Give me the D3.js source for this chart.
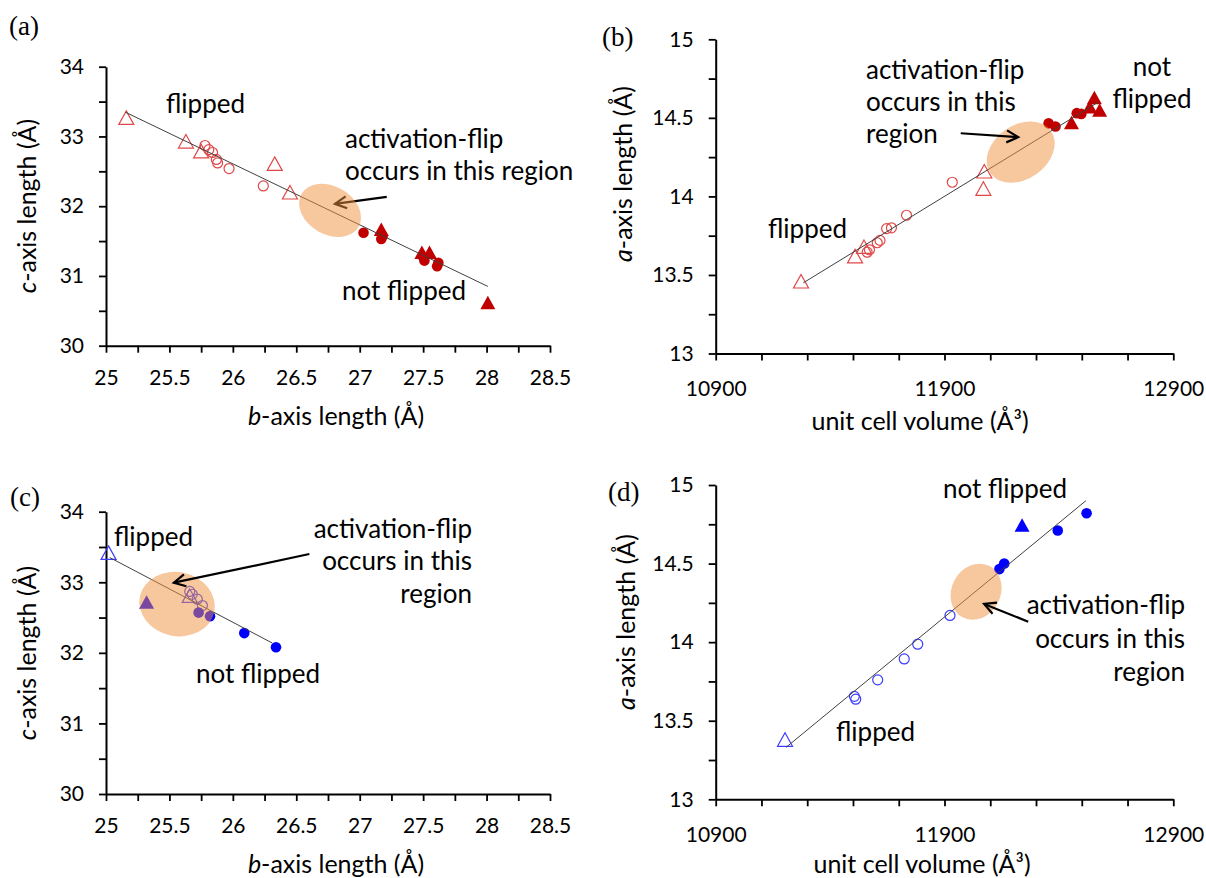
<!DOCTYPE html>
<html>
<head>
<meta charset="utf-8">
<script src="https://cdn.jsdelivr.net/npm/d3@7"></script>
<style>
  body { margin: 0; background: #fff; }
  svg text { font-family: Lato, "Open Sans", sans-serif; fill: #000; }
</style>
</head>
<body>
<svg id="fig" width="1206" height="878"></svg>
<script>
// ---------- axis ticks ----------
const bTicks   = [25, 25.25, 25.5, 25.75, 26, 26.25, 26.5, 26.75, 27, 27.25, 27.5, 27.75, 28, 28.25, 28.5];
const bLabels  = [25, 25.5, 26, 26.5, 27, 27.5, 28, 28.5];
const cTicks   = [30, 30.5, 31, 31.5, 32, 32.5, 33, 33.5, 34];
const cLabels  = [30, 31, 32, 33, 34];
const volTicks = [10900, 11100, 11300, 11500, 11700, 11900, 12100, 12300, 12500, 12700, 12900];
const volLabels = [10900, 11900, 12900];
const aTicks   = [13, 13.25, 13.5, 13.75, 14, 14.25, 14.5, 14.75, 15];
const aLabels  = [13, 13.5, 14, 14.5, 15];

// ---------- (a) c-axis vs b-axis, first sample set ----------
const aFlippedTri   = [[25.16, 33.27], [25.63, 32.93], [25.75, 32.79], [26.33, 32.61], [26.45, 32.20]];
const aFlippedCirc  = [[25.78, 32.87], [25.81, 32.81], [25.84, 32.77], [25.87, 32.67], [25.88, 32.62], [25.97, 32.54], [26.24, 32.29]];
const aNotFlipCirc  = [[27.03, 31.62], [27.18, 31.57], [27.17, 31.53], [27.50, 31.27], [27.51, 31.22], [27.62, 31.19], [27.61, 31.14]];
const aNotFlipTri   = [[27.17, 31.67], [27.49, 31.34], [27.55, 31.34], [28.01, 30.62]];
const aTrend        = [[25.15, 33.35], [28.01, 30.85]];

// ---------- (b) a-axis vs unit cell volume, first sample set ----------
const bFlippedTri   = [[11273, 13.46], [11509, 13.62], [11548, 13.68], [12074, 14.16], [12070, 14.05]];
const bFlippedCirc  = [[11562, 13.645], [11572, 13.66], [11606, 13.705], [11618, 13.72], [11647, 13.795], [11668, 13.80], [11734, 13.88], [11934, 14.09]];
const bNotFlipCirc  = [[12355, 14.465], [12385, 14.445], [12478, 14.53], [12498, 14.525]];
const bNotFlipTri   = [[12455, 14.47], [12535, 14.57], [12555, 14.63], [12578, 14.55]];
const bTrend        = [[11283, 13.45], [12572, 14.60]];

// ---------- (c) c-axis vs b-axis, second sample set ----------
const cFlippedTri   = [[25.02, 33.42], [25.66, 32.81]];
const cFlippedCirc  = [[25.66, 32.87], [25.68, 32.83], [25.72, 32.76], [25.76, 32.67]];
const cNotFlipCirc  = [[25.73, 32.57], [25.82, 32.52], [26.09, 32.28], [26.34, 32.08]];
const cNotFlipTri   = [[25.32, 32.72]];
const cTrend        = [[25.03, 33.35], [26.31, 32.14]];

// ---------- (d) a-axis vs unit cell volume, second sample set ----------
const dFlippedTri   = [[11203, 13.38]];
const dFlippedCirc  = [[11506, 13.655], [11512, 13.637], [11608, 13.76], [11724, 13.893], [11783, 13.987], [11924, 14.17]];
const dNotFlipCirc  = [[12140, 14.465], [12161, 14.50], [12395, 14.71], [12521, 14.82]];
const dNotFlipTri   = [[12239, 14.745]];
const dTrend        = [[11207, 13.33], [12518, 14.90]];

const RED_OPEN = "#E04848", RED_FILL = "#C00000";
const BLUE_OPEN = "#3C3CFF", BLUE_FILL = "#0000FF";
const ZONE_FILL = "#F0913D";
const NOTE_SIZE = "26px", TITLE_SIZE = "25px", TICK_SIZE = "21px";

const svg = d3.select("#fig");

function triPath(s, h) {
  return `M0,${-h / 2}L${s / 2},${h / 2}L${-s / 2},${h / 2}Z`;
}

function arrowTo(g, x0, y0, x1, y1) {
  const ang = Math.atan2(y1 - y0, x1 - x0), L = 13, W = 0.48;
  g.append("line").attr("x1", x0).attr("y1", y0).attr("x2", x1).attr("y2", y1)
    .attr("stroke", "#000").attr("stroke-width", 2.2);
  const p1 = [x1 - L * Math.cos(ang - W), y1 - L * Math.sin(ang - W)];
  const p2 = [x1 - L * Math.cos(ang + W), y1 - L * Math.sin(ang + W)];
  g.append("path").attr("d", `M${p1}L${x1},${y1}L${p2}`)
    .attr("fill", "none").attr("stroke", "#000").attr("stroke-width", 2.2)
    .attr("stroke-linejoin", "miter");
}

function isIn(list, v) { return list.some(t => Math.abs(t - v) < 1e-9); }

function drawPanel(p) {
  const g = svg.append("g");
  const x = d3.scaleLinear().domain(p.xDomain).range(p.xRange);
  const y = d3.scaleLinear().domain(p.yDomain).range(p.yRange);

  // axes
  const xAxis = d3.axisBottom(x).tickValues(p.xTicks)
    .tickFormat(d => isIn(p.xLabels, d) ? String(d) : "")
    .tickSize(7).tickSizeOuter(0).tickPadding(p.xPad);
  const yAxis = d3.axisLeft(y).tickValues(p.yTicks)
    .tickFormat(d => isIn(p.yLabels, d) ? String(d) : "")
    .tickSize(7).tickSizeOuter(0).tickPadding(15);
  const gx = g.append("g").attr("transform", `translate(0,${p.yRange[0]})`).call(xAxis);
  const gy = g.append("g").attr("transform", `translate(${p.xRange[0]},0)`).call(yAxis);
  [gx, gy].forEach(a => {
    a.select(".domain").attr("stroke", "#000").attr("stroke-width", 2);
    a.selectAll(".tick line").attr("stroke", "#000").attr("stroke-width", 1.8);
    a.selectAll(".tick text").style("font-family", "Lato, sans-serif").style("font-size", TICK_SIZE).attr("fill", "#000");
  });

  // axis titles
  const xt = g.append("text").attr("x", p.xTitle[0]).attr("y", p.xTitle[1])
    .attr("text-anchor", "middle").style("font-size", TITLE_SIZE);
  xt.append("tspan").style("font-style", "italic").text(p.xTitleItalic);
  xt.append("tspan").text(p.xTitleRest);
  const yt = g.append("text")
    .attr("transform", `translate(${p.yTitle[0]},${p.yTitle[1]}) rotate(-90)`)
    .attr("text-anchor", "middle").style("font-size", TITLE_SIZE);
  yt.append("tspan").style("font-style", "italic").text(p.yTitleItalic);
  yt.append("tspan").text(p.yTitleRest);

  // panel letter
  g.append("text").attr("x", p.letter[0]).attr("y", p.letter[1])
    .style("font-family", "'Liberation Serif', 'Times New Roman', serif")
    .style("font-size", "27px").text(p.letter[2]);

  const marks = g.append("g");
  // flipped (open) markers
  marks.selectAll(".fc").data(p.flipCirc).join("circle")
    .attr("cx", d => x(d[0])).attr("cy", d => y(d[1])).attr("r", 5)
    .attr("fill", "none").attr("stroke", p.openColor).attr("stroke-width", 1.2);
  marks.selectAll(".ft").data(p.flipTri).join("path")
    .attr("transform", d => `translate(${x(d[0])},${y(d[1])})`)
    .attr("d", triPath(15, 13.5))
    .attr("fill", "none").attr("stroke", p.openColor).attr("stroke-width", 1.2);
  // not flipped (filled) markers
  marks.selectAll(".nc").data(p.notCirc).join("circle")
    .attr("cx", d => x(d[0])).attr("cy", d => y(d[1])).attr("r", 5.3)
    .attr("fill", p.fillColor);
  marks.selectAll(".nt").data(p.notTri).join("path")
    .attr("transform", d => `translate(${x(d[0])},${y(d[1])})`)
    .attr("d", triPath(15, 13.5)).attr("fill", p.fillColor);

  // linear trend line
  g.append("line")
    .attr("x1", x(p.trend[0][0])).attr("y1", y(p.trend[0][1]))
    .attr("x2", x(p.trend[1][0])).attr("y2", y(p.trend[1][1]))
    .attr("stroke", "#404040").attr("stroke-width", 1);

  // transition zone and pointer
  const z = p.zone;
  const zx = x(z.c[0]), zy = y(z.c[1]);
  const drawZone = () => g.append("ellipse")
    .attr("cx", zx).attr("cy", zy).attr("rx", z.rx).attr("ry", z.ry)
    .attr("transform", `rotate(${z.rot},${zx},${zy})`)
    .attr("fill", ZONE_FILL).attr("fill-opacity", 0.5);
  const drawArrow = () => arrowTo(g, x(p.arrow[0][0]), y(p.arrow[0][1]), x(p.arrow[1][0]), y(p.arrow[1][1]));
  if (p.arrowBelowZone) { drawArrow(); drawZone(); } else { drawZone(); drawArrow(); }

  // annotations
  p.notes.forEach(n => {
    g.append("text").attr("x", n.x).attr("y", n.y)
      .attr("text-anchor", n.anchor || "start")
      .style("font-size", NOTE_SIZE).text(n.t);
  });
}

drawPanel({
  xDomain: [25, 28.5], yDomain: [30, 34], xRange: [106, 550], yRange: [345.7, 66.7],
  xTicks: bTicks, xLabels: bLabels, yTicks: cTicks, yLabels: cLabels, xPad: 17,
  xTitle: [336, 425], xTitleItalic: "b", xTitleRest: "-axis length (Å)",
  yTitle: [36, 206], yTitleItalic: "c", yTitleRest: "-axis length (Å)",
  letter: [9, 35, "(a)"],
  flipTri: aFlippedTri, flipCirc: aFlippedCirc, notCirc: aNotFlipCirc, notTri: aNotFlipTri,
  openColor: RED_OPEN, fillColor: RED_FILL, trend: aTrend,
  zone: { c: [26.766, 31.94], rx: 33, ry: 24, rot: 30 },
  arrow: [[27.213, 32.134], [26.805, 32.034]], arrowBelowZone: true,
  notes: [
    { t: "flipped", x: 166, y: 113 },
    { t: "activation-flip", x: 345, y: 148 },
    { t: "occurs in this region", x: 345, y: 180 },
    { t: "not flipped", x: 342, y: 300 }
  ]
});

drawPanel({
  xDomain: [10900, 12900], yDomain: [13, 15], xRange: [715.7, 1173.3], yRange: [353.5, 39.3],
  xTicks: volTicks, xLabels: volLabels, yTicks: aTicks, yLabels: aLabels, xPad: 21,
  xTitle: [920, 430], xTitleItalic: "", xTitleRest: "unit cell volume (Å³)",
  yTitle: [632, 174], yTitleItalic: "a", yTitleRest: "-axis length (Å)",
  letter: [602, 46, "(b)"],
  flipTri: bFlippedTri, flipCirc: bFlippedCirc, notCirc: bNotFlipCirc, notTri: bNotFlipTri,
  openColor: RED_OPEN, fillColor: RED_FILL, trend: bTrend,
  zone: { c: [12233, 14.282], rx: 37, ry: 27, rot: -35 },
  arrow: [[11971, 14.402], [12222, 14.377]], arrowBelowZone: false,
  notes: [
    { t: "activation-flip", x: 866, y: 79 },
    { t: "occurs in this", x: 866, y: 111 },
    { t: "region", x: 866, y: 143 },
    { t: "not", x: 1152, y: 76, anchor: "middle" },
    { t: "flipped", x: 1152, y: 108, anchor: "middle" },
    { t: "flipped", x: 768, y: 238 }
  ]
});

drawPanel({
  xDomain: [25, 28.5], yDomain: [30, 34], xRange: [106, 550], yRange: [794, 511.7],
  xTicks: bTicks, xLabels: bLabels, yTicks: cTicks, yLabels: cLabels, xPad: 17,
  xTitle: [336, 873], xTitleItalic: "b", xTitleRest: "-axis length (Å)",
  yTitle: [36, 653], yTitleItalic: "c", yTitleRest: "-axis length (Å)",
  letter: [10, 506, "(c)"],
  flipTri: cFlippedTri, flipCirc: cFlippedCirc, notCirc: cNotFlipCirc, notTri: cNotFlipTri,
  openColor: BLUE_OPEN, fillColor: BLUE_FILL, trend: cTrend,
  zone: { c: [25.56, 32.69], rx: 38, ry: 32, rot: 12 },
  arrow: [[26.603, 33.40], [25.535, 32.994]], arrowBelowZone: false,
  notes: [
    { t: "flipped", x: 114, y: 546 },
    { t: "activation-flip", x: 472, y: 538, anchor: "end" },
    { t: "occurs in this", x: 472, y: 570, anchor: "end" },
    { t: "region", x: 472, y: 603, anchor: "end" },
    { t: "not flipped", x: 196, y: 683 }
  ]
});

drawPanel({
  xDomain: [10900, 12900], yDomain: [13, 15], xRange: [715.7, 1173.3], yRange: [799.3, 485],
  xTicks: volTicks, xLabels: volLabels, yTicks: aTicks, yLabels: aLabels, xPad: 21,
  xTitle: [922, 873], xTitleItalic: "", xTitleRest: "unit cell volume (Å³)",
  yTitle: [635, 622], yTitleItalic: "a", yTitleRest: "-axis length (Å)",
  letter: [608, 501, "(d)"],
  flipTri: dFlippedTri, flipCirc: dFlippedCirc, notCirc: dNotFlipCirc, notTri: dNotFlipTri,
  openColor: BLUE_OPEN, fillColor: BLUE_FILL, trend: dTrend,
  zone: { c: [12038, 14.321], rx: 29, ry: 24.5, rot: -62 },
  arrow: [[12266, 14.13], [12073, 14.243]], arrowBelowZone: false,
  notes: [
    { t: "not flipped", x: 943, y: 498 },
    { t: "activation-flip", x: 1185, y: 614, anchor: "end" },
    { t: "occurs in this", x: 1185, y: 648, anchor: "end" },
    { t: "region", x: 1185, y: 681, anchor: "end" },
    { t: "flipped", x: 836, y: 741 }
  ]
});
</script>
</body>
</html>
